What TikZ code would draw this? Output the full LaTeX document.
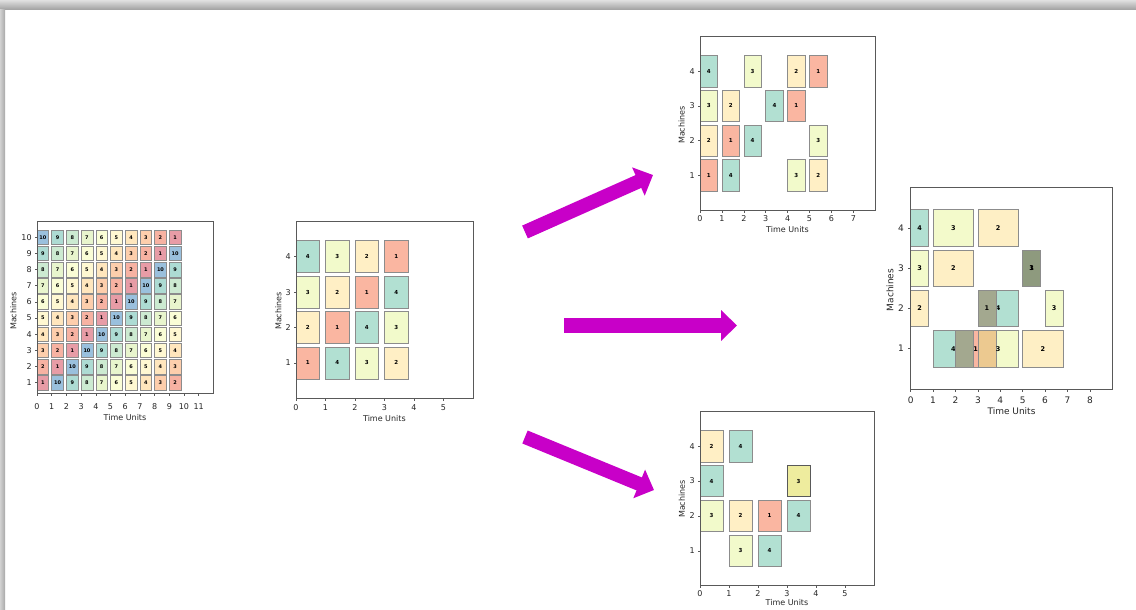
\documentclass[tikz,border=0pt]{standalone}
\usepackage{fontspec}
\setmainfont{DejaVu Sans}
\usetikzlibrary{arrows.meta}
% spectral colours, 4 jobs
\definecolor{j1}{HTML}{F46D43}
\definecolor{j2}{HTML}{FEE08B}
\definecolor{j3}{HTML}{E6F598}
\definecolor{j4}{HTML}{66C2A5}
% spectral colours, 10 jobs
\definecolor{jc1}{HTML}{D0384E}
\definecolor{jc2}{HTML}{EF6645}
\definecolor{jc3}{HTML}{FB9D5A}
\definecolor{jc4}{HTML}{FECD7C}
\definecolor{jc5}{HTML}{FEF0A6}
\definecolor{jc6}{HTML}{F4FBAE}
\definecolor{jc7}{HTML}{D1EC9C}
\definecolor{jc8}{HTML}{99D6A4}
\definecolor{jc9}{HTML}{5CB7A8}
\definecolor{jc10}{HTML}{3681BA}
% overlapping bars
\definecolor{ovdark}{HTML}{A3A88F}
\definecolor{ovdeep}{HTML}{8E9A7E}
\definecolor{ovtan}{HTML}{ECC990}
\definecolor{ovyel}{HTML}{EEEC9E}
\definecolor{arrmag}{HTML}{C800C8}

\begin{document}
\begin{tikzpicture}[x=1pt, y=-1pt, line width=0.8pt,
  bar/.style={draw=black!45, line width=0.6pt},
  frm/.style={draw=black!65, line width=0.8pt},
  tickmark/.style={draw=black!65, line width=0.6pt},
  tka/.style={font=\fontsize{8}{9}\selectfont, text=black!85, inner sep=0pt},
  tkd/.style={font=\fontsize{9}{10}\selectfont, text=black!85, inner sep=0pt},
  lbla/.style={font=\fontsize{5}{6}\selectfont\bfseries, inner sep=0pt},
  lbl/.style={font=\fontsize{5.5}{6}\selectfont\bfseries, inner sep=0pt},
  lbld/.style={font=\fontsize{6.5}{7}\selectfont\bfseries, inner sep=0pt},
  bigarrow/.style={arrmag, line width=14pt, -{Triangle[length=16pt,width=30pt]}}]
  \useasboundingbox (0,0) rectangle (1136,610);
  % page frame
  \fill[white] (0,0) rectangle (1136,610);
  \shade[top color=black!12, bottom color=black!38] (0,0) rectangle (1136,10);
  \shade[left color=black!18, right color=black!34] (0,10) rectangle (5,610);

  % 10 machines x 10 jobs, cyclic order
  \begin{scope}[shift={(37,398.9)}, x=14.7pt, y=16.16pt]
    \foreach \m in {1,...,10}{
      \foreach \c in {0,...,9}{
        \pgfmathtruncatemacro{\j}{mod(\m-\c+9,10)+1}
        \filldraw[bar, fill=jc\j!50] (\c,\m-0.45) rectangle ++(0.8,0.9);
        \node[lbla] (a-\m-\c) at (\c+0.4,\m) {\j};
      }
    }
    \draw[frm] (0,0.35) rectangle (12,10.97);
    \foreach \i in {0,...,11}{
      \draw[tickmark] (\i,0.35) -- ++(0,-2.5pt);
      \node[tka, yshift=-13.4pt] (ax\i) at (\i,0.35) {\i};
    }
    \foreach \m in {1,...,10}{
      \draw[tickmark] (0,\m) -- ++(-2.5pt,0);
      \node[tka, anchor=east, xshift=-5pt] (ay\m) at (0,\m) {\m};
    }
  \end{scope}
  \node[tka, rotate=90] (aylab) at (13.5,311) {Machines};
  \node[tka] (axlab) at (125,418) {Time Units};

  % 4 machines x 4 jobs, start schedule
  \begin{scope}[shift={(296,398.3)}, x=29.5pt, y=35.4pt]
    \foreach \t/\m/\j [count=\k] in {0/4/4, 1/4/3, 2/4/2, 3/4/1, 0/3/3, 1/3/2, 2/3/1, 3/3/4,
                                     0/2/2, 1/2/1, 2/2/4, 3/2/3, 0/1/1, 1/1/4, 2/1/3, 3/1/2}{
      \filldraw[bar, fill=j\j!50] (\t,\m-0.45) rectangle ++(0.8,0.9);
      \node[lbl] (b\k) at (\t+0.4,\m) {\j};
    }
    \draw[frm] (0,0) rectangle (6,5);
    \foreach \i in {0,...,5}{
      \draw[tickmark] (\i,0) -- ++(0,-2.5pt);
      \node[tka, yshift=-9pt] (bx\i) at (\i,0) {\i};
    }
    \foreach \m in {1,...,4}{
      \draw[tickmark] (0,\m) -- ++(-2.5pt,0);
      \node[tka, anchor=east, xshift=-5pt] (by\m) at (0,\m) {\m};
    }
  \end{scope}
  \node[tka, rotate=90] (bylab) at (278.3,311) {Machines};
  \node[tka] (bxlab) at (384.4,419) {Time Units};

  % top result
  \begin{scope}[shift={(700,210)}, x=21.9pt, y=34.7pt]
    \foreach \t/\m/\j [count=\k] in {0/4/4, 2/4/3, 4/4/2, 5/4/1, 0/3/3, 1/3/2, 3/3/4, 4/3/1,
                                     0/2/2, 1/2/1, 2/2/4, 5/2/3, 0/1/1, 1/1/4, 4/1/3, 5/1/2}{
      \filldraw[bar, fill=j\j!50] (\t,\m-0.45) rectangle ++(0.8,0.9);
      \node[lbl] (c\k) at (\t+0.4,\m) {\j};
    }
    \draw[frm] (0,0) rectangle (8,5);
    \foreach \i in {0,...,7}{
      \draw[tickmark] (\i,0) -- ++(0,-2.5pt);
      \node[tka, yshift=-9pt] (cx\i) at (\i,0) {\i};
    }
    \foreach \m in {1,...,4}{
      \draw[tickmark] (0,\m) -- ++(-2.5pt,0);
      \node[tka, anchor=east, xshift=-5pt] (cy\m) at (0,\m) {\m};
    }
  \end{scope}
  \node[tka, rotate=90] (cylab) at (681.7,125) {Machines};
  \node[tka] (cxlab) at (787.5,230) {Time Units};

  % right result, overlapping operations
  \begin{scope}[shift={(910.7,389)}, x=22.4pt, y=40.3pt]
    \foreach \t/\w/\m/\j in {0/0.8/4/4, 1/1.8/4/3, 3/1.8/4/2, 0/0.8/3/3, 1/1.8/3/2, 5/0.8/3/1,
                             0/0.8/2/2, 3/1.8/2/4, 3/0.8/2/1, 6/0.8/2/3,
                             1/1.8/1/4, 2/1.8/1/1, 3/1.8/1/3, 5/1.8/1/2}{
      \fill[j\j!50] (\t,\m-0.45) rectangle ++(\w,0.9);
    }
    \fill[ovdark] (2,0.55) rectangle (2.8,1.45);
    \fill[ovtan] (3,0.55) rectangle (3.8,1.45);
    \fill[ovdark] (3,1.55) rectangle (3.8,2.45);
    \fill[ovdeep] (5,2.55) rectangle (5.8,3.45);
    \foreach \t/\w/\m/\j [count=\k] in {0/0.8/4/4, 1/1.8/4/3, 3/1.8/4/2, 0/0.8/3/3, 1/1.8/3/2, 5/0.8/3/1,
                                        5/0.8/3/3, 0/0.8/2/2, 3/1.8/2/4, 3/0.8/2/1, 6/0.8/2/3,
                                        1/1.8/1/4, 2/1.8/1/1, 3/1.8/1/3, 5/1.8/1/2}{
      \draw[bar] (\t,\m-0.45) rectangle ++(\w,0.9);
      \node[lbld] (d\k) at (\t+\w/2,\m) {\j};
    }
    \draw[frm] (0,0) rectangle (9,5);
    \foreach \i in {0,...,8}{
      \draw[tickmark] (\i,0) -- ++(0,-2.5pt);
      \node[tkd, yshift=-11pt] (dx\i) at (\i,0) {\i};
    }
    \foreach \m in {1,...,4}{
      \draw[tickmark] (0,\m) -- ++(-2.5pt,0);
      \node[tkd, anchor=east, xshift=-6.5pt] (dy\m) at (0,\m) {\m};
    }
  \end{scope}
  \node[tkd, rotate=90] (dylab) at (890,290) {Machines};
  \node[tkd] (dxlab) at (1011.5,411) {Time Units};

  % bottom result
  \begin{scope}[shift={(700,585.7)}, x=29pt, y=34.9pt]
    \foreach \t/\m/\j [count=\k] in {0/4/2, 1/4/4, 0/3/4, 0/2/3, 1/2/2, 2/2/1, 3/2/4, 1/1/3, 2/1/4}{
      \filldraw[bar, fill=j\j!50] (\t,\m-0.45) rectangle ++(0.8,0.9);
      \node[lbl] (e\k) at (\t+0.4,\m) {\j};
    }
    \filldraw[bar, draw=black!65, fill=ovyel] (3,2.55) rectangle ++(0.8,0.9);
    \node[lbl] (e10) at (3.4,3) {3};
    \draw[frm] (0,0) rectangle (6,5);
    \foreach \i in {0,...,5}{
      \draw[tickmark] (\i,0) -- ++(0,-2.5pt);
      \node[tka, yshift=-7.5pt] (ex\i) at (\i,0) {\i};
    }
    \foreach \m in {1,...,4}{
      \draw[tickmark] (0,\m) -- ++(-2.5pt,0);
      \node[tka, anchor=east, xshift=-5pt] (ey\m) at (0,\m) {\m};
    }
  \end{scope}
  \node[tka, rotate=90] (eylab) at (682,499) {Machines};
  \node[tka] (exlab) at (787,603) {Time Units};

  % arrows to the three results
  \coordinate (upS) at (525,232);
  \coordinate (upE) at (653,175);
  \coordinate (midS) at (564,325.5);
  \coordinate (midE) at (737,325.5);
  \coordinate (dnS) at (525,437);
  \coordinate (dnE) at (654,490);
  \draw[bigarrow] (upS) -- (upE);
  \draw[bigarrow, line width=15.5pt] (midS) -- (midE);
  \draw[bigarrow] (dnS) -- (dnE);
\end{tikzpicture}
\end{document}
